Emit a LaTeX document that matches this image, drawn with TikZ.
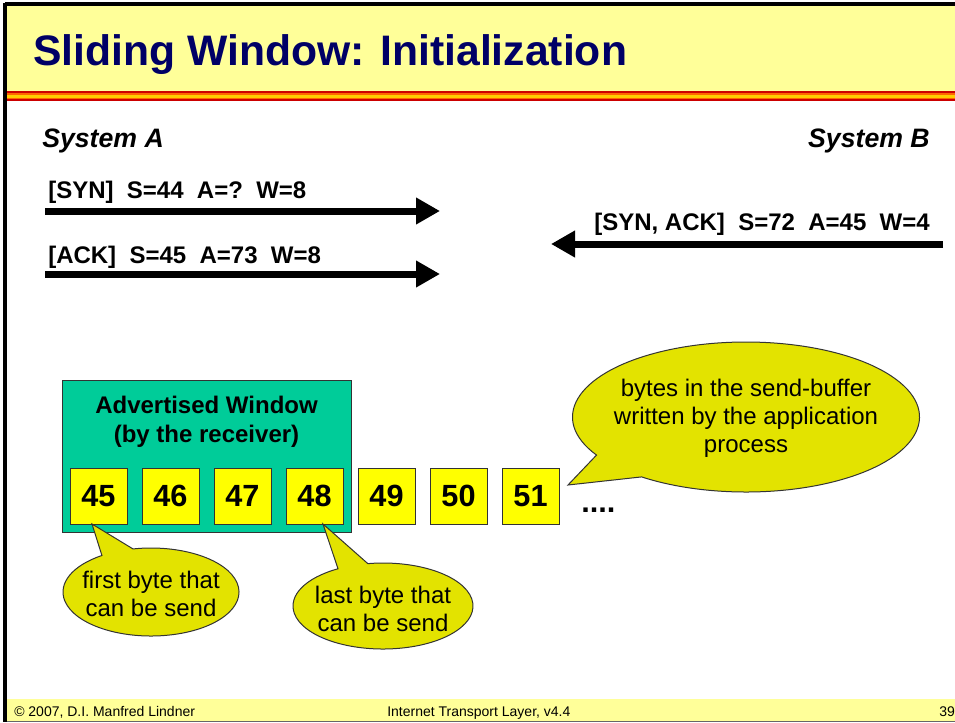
\documentclass[tikz,border=0pt]{standalone}
\usepackage{fontspec}
\setmainfont{Liberation Sans}
\usetikzlibrary{arrows.meta}
\definecolor{titlebg}{RGB}{255,255,153}
\definecolor{navy}{RGB}{0,0,102}
\definecolor{wingreen}{RGB}{0,204,153}
\definecolor{byteyellow}{RGB}{255,255,0}
\definecolor{calloutfill}{RGB}{227,227,0}
\definecolor{stripered}{RGB}{204,0,0}
\definecolor{stripeorange}{RGB}{255,102,0}
\definecolor{stripegold}{RGB}{255,204,0}
\begin{document}
\begin{tikzpicture}[x=0.75pt,y=-0.75pt,
  bytebox/.style={draw=black!80, fill=byteyellow, line width=0.75pt, minimum width=42.75pt, minimum height=42pt, inner sep=0pt, font=\fontsize{23}{23}\selectfont\bfseries},
  msglabel/.style={inner sep=0pt, font=\fontsize{18}{18}\selectfont\bfseries},
  sysname/.style={inner sep=0pt, font=\fontsize{20}{20}\selectfont\bfseries\itshape},
  bubbletext/.style={inner sep=0pt, align=center, font=\fontsize{18}{21}\selectfont},
  bubble/.style={draw=black!80, fill=calloutfill, line width=0.75pt},
  msgarrow/.style={line width=5.25pt, -{Triangle[length=18pt,width=19pt]}},
  foot/.style={inner sep=0pt, font=\fontsize{10.5}{10.5}\selectfont}]
\useasboundingbox (0,0) rectangle (955,722);
\fill[white] (0,0) rectangle (955,722);
% title band
\fill[titlebg] (5,5) rectangle (955,92);
\fill[stripered] (5,91) rectangle (955,93);
\fill[stripeorange] (5,93) rectangle (955,95);
\fill[stripegold] (5,95) rectangle (955,97.5);
\fill[stripeorange] (5,97.5) rectangle (955,99);
\fill[stripered] (5,99) rectangle (955,101);
% footer band
\fill[titlebg] (5,699) rectangle (955,721);
\draw[black!60, line width=0.75pt] (5,721) -- (955,721);
% frame
\draw[line width=2.4pt] (5,4) -- (955,4);
\draw[line width=2.4pt] (5,3) -- (5,722);
% title
\node[anchor=base west, inner sep=0pt, text=navy, font=\fontsize{32}{32}\selectfont\bfseries] (title) at (33,65) {Sliding Window: Initialization};
% systems
\node[sysname, anchor=base west] (sysA) at (42,147) {System A};
\node[sysname, anchor=base east] (sysB) at (930,147) {System B};
% messages
\node[msglabel, anchor=base west] (m1) at (48,198) {[SYN]~~S=44~~A=?~~W=8};
\coordinate (a1s) at (45,211);
\coordinate (a1e) at (440,211);
\draw[msgarrow] (a1s) -- (a1e);
\node[msglabel, anchor=base east] (m2) at (930,230) {[SYN, ACK]~~S=72~~A=45~~W=4};
\coordinate (a2s) at (943,244);
\coordinate (a2e) at (551,244);
\draw[msgarrow] (a2s) -- (a2e);
\node[msglabel, anchor=base west] (m3) at (48,263) {[ACK]~~S=45~~A=73~~W=8};
\coordinate (a3s) at (45,274);
\coordinate (a3e) at (440,274);
\draw[msgarrow] (a3s) -- (a3e);
% advertised window
\node[draw=black!80, fill=wingreen, line width=0.75pt, minimum width=216.75pt, minimum height=114pt, inner sep=0pt] (win) at (206.5,456) {};
\node[inner sep=0pt, align=center, font=\fontsize{18}{21.75}\selectfont\bfseries] (wintext) at (206.5,422) {Advertised Window\\(by the receiver)};
% bytes
\node[bytebox] (b45) at (98.5,496) {45};
\node[bytebox] (b46) at (170.5,496) {46};
\node[bytebox] (b47) at (242.5,496) {47};
\node[bytebox] (b48) at (314.5,496) {48};
\node[bytebox] (b49) at (386.5,496) {49};
\node[bytebox] (b50) at (458.5,496) {50};
\node[bytebox] (b51) at (530.5,496) {51};
\node[inner sep=0pt, anchor=base west, font=\fontsize{23}{23}\selectfont\bfseries] (dots) at (581,512) {....};
% callouts
\draw[bubble] (746,417) ++(149.5:173.5 and 75) arc[start angle=149.5, end angle=487, x radius=173.5, y radius=75] -- (568,485) -- cycle;
\node[bubbletext] (c1) at (746,418) {bytes in the send-buffer\\written by the application\\process};
\draw[bubble] (151,592) ++(-101.8:88 and 44) arc[start angle=-101.8, end angle=236.1, x radius=88, y radius=44] -- (92,524) -- cycle;
\node[bubbletext] (c2) at (151,594) {first byte that\\can be send};
\draw[bubble] (383,606) ++(-99.7:90 and 43) arc[start angle=-99.7, end angle=240, x radius=90, y radius=43] -- (323,524) -- cycle;
\node[bubbletext] (c3) at (383,609) {last byte that\\can be send};
% footer text
\node[foot, anchor=base west] (f1) at (14,716) {© 2007, D.I. Manfred Lindner};
\node[foot, anchor=base west] (f2) at (387,716) {Internet Transport Layer, v4.4};
\node[foot, anchor=base west] (f3) at (939,716) {39};
\end{tikzpicture}
\end{document}
